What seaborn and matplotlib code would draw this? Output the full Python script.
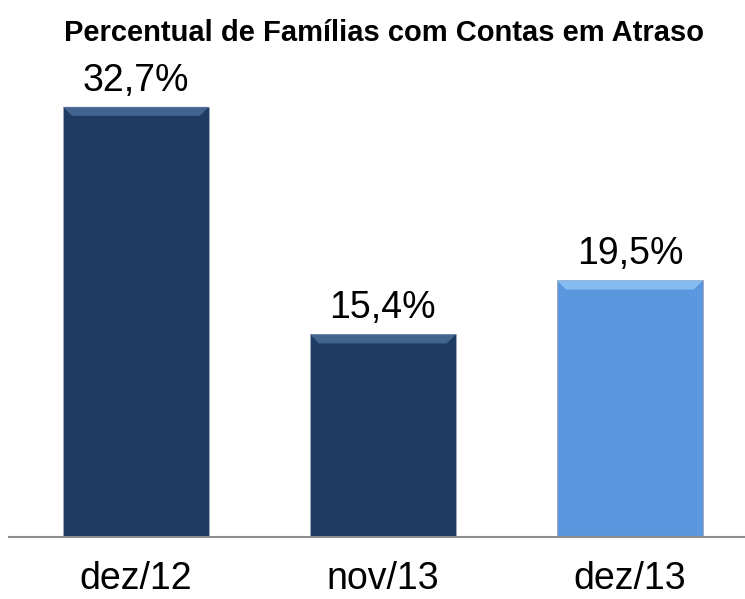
import matplotlib
matplotlib.use("Agg")
import matplotlib.pyplot as plt
from matplotlib.patches import Polygon
import seaborn as sns
import pandas as pd

categories = ["dez/12", "nov/13", "dez/13"]
values = [32.7, 15.4, 19.5]
value_labels = ["32,7%", "15,4%", "19,5%"]
colors = ["#1F3B62", "#1F3B62", "#5B97DE"]
bevel_colors = ["#4A6C98", "#4A6C98", "#8EC3F4"]
title = "Percentual de Famílias com Contas em Atraso"

sns.set_theme(style="white")
plt.rcParams["font.family"] = ["Liberation Sans", "DejaVu Sans"]

df = pd.DataFrame({"cat": categories, "val": values})

fig = plt.figure(figsize=(7.45, 5.99), dpi=100)
ax = fig.add_axes([0.012, 0.1035, 0.988, 0.7965])

sns.barplot(data=df, x="cat", y="val", hue="cat", palette=colors,
            width=0.59, legend=False, ax=ax, saturation=1,
            edgecolor="#A0A8B4", linewidth=0.6)

ax.set_xlim(-0.514, 2.466)
ax.set_ylim(0, 36.27)
for side in ["top", "right", "left"]:
    ax.spines[side].set_visible(False)
ax.spines["bottom"].set_color("#8C8C8C")
ax.spines["bottom"].set_linewidth(1.5)
ax.set_yticks([])
ax.set_xlabel("")
ax.set_ylabel("")
ax.tick_params(axis="x", length=0, labelsize=27, pad=17, colors="black")

fig.canvas.draw()
inv = ax.transData.inverted()
for cont in ax.containers:
    labs = []
    for p in cont:
        i = int(round(p.get_x() + p.get_width() / 2))
        labs.append(value_labels[i])
        # bevel highlight on top edge (derived from the bar's own geometry)
        (x0, y0), (x1, y1) = ax.transData.transform([(p.get_x(), 0), (p.get_x() + p.get_width(), p.get_height())])
        d = 9
        pts = [(x0, y1), (x1, y1), (x1 - d, y1 - d), (x0 + d, y1 - d)]
        poly = Polygon(inv.transform(pts), closed=True, facecolor=bevel_colors[i],
                       edgecolor="none", alpha=0.85, zorder=p.get_zorder() + 0.1)
        ax.add_patch(poly)
    ax.bar_label(cont, labels=labs, padding=6, fontsize=27, color="black")

fig.text(0.5154, 0.945, title, ha="center", va="center", fontsize=21,
         fontweight="bold", color="black")

fig.savefig("out.png", dpi=100)
